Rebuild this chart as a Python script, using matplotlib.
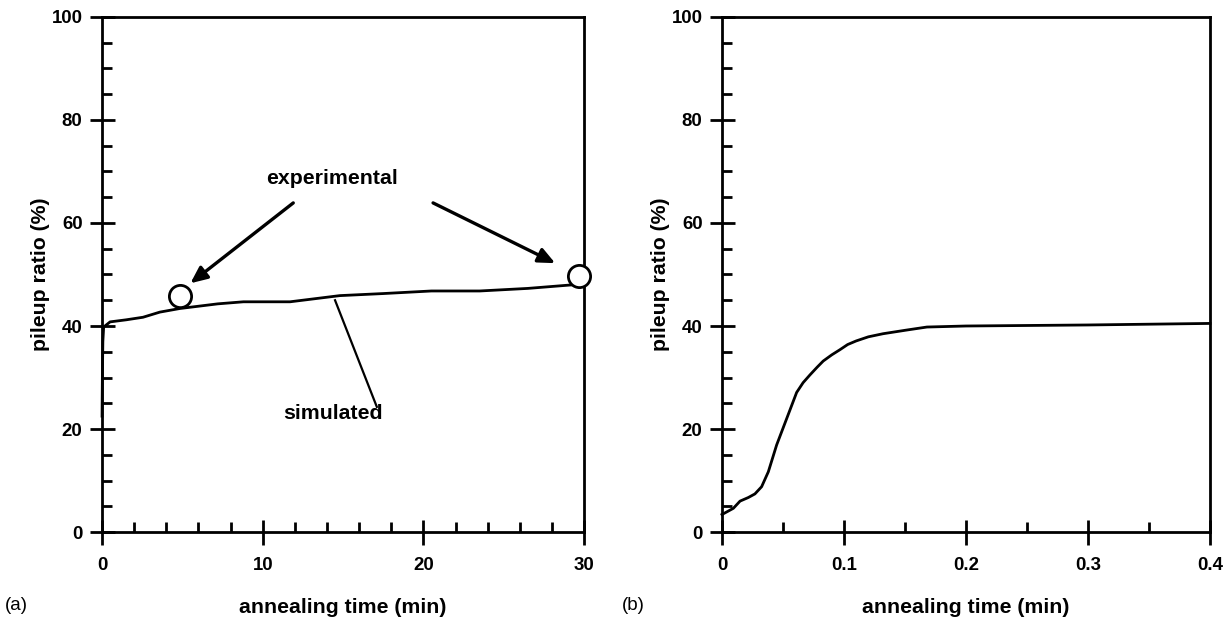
import numpy as np
import matplotlib
matplotlib.use("Agg")
import matplotlib.pyplot as plt
from matplotlib.ticker import MultipleLocator

plt.rcParams["font.family"] = ["Liberation Sans", "DejaVu Sans"]

# (a) long anneal: simulated pileup ratio vs time (min)
sim_a_t = [0.0, 0.02, 0.05, 0.1, 0.5, 1.5, 2.55, 3.6, 4.85, 7.2, 8.8, 11.7,
           14.8, 17.5, 20.5, 23.5, 26.5, 29.3, 30.0]
sim_a_y = [22.5, 30.0, 37.0, 39.8, 40.8, 41.2, 41.7, 42.7, 43.4, 44.3, 44.7,
           44.7, 45.9, 46.3, 46.8, 46.8, 47.3, 48.0, 48.2]

# experimental points
exp_t = [4.85, 29.7]
exp_y = [45.8, 49.7]

# (b) short anneal
sim_b_t = [0.0, 0.0093, 0.0148, 0.0216, 0.027, 0.0325, 0.038, 0.0448, 0.053,
           0.0612, 0.0665, 0.0721, 0.078, 0.083, 0.09, 0.0967, 0.103, 0.110,
           0.12, 0.132, 0.151, 0.168, 0.2, 0.3, 0.4]
sim_b_y = [3.4, 4.6, 6.0, 6.7, 7.4, 8.8, 11.7, 16.9, 22.0, 27.1, 29.0, 30.5,
           32.0, 33.2, 34.4, 35.4, 36.4, 37.1, 37.9, 38.5, 39.2, 39.8, 40.0,
           40.2, 40.5]

FS = 13.4      # tick labels
LFS = 15.3     # axis labels / annotations
LW = 2.0


def style_axes(ax, xmax, xmajor, xminor):
    ax.set_xlim(0, xmax)
    ax.set_ylim(0, 100)
    ax.xaxis.set_major_locator(MultipleLocator(xmajor))
    ax.xaxis.set_minor_locator(MultipleLocator(xminor))
    ax.yaxis.set_major_locator(MultipleLocator(20))
    ax.yaxis.set_minor_locator(MultipleLocator(5))
    ax.xaxis.set_major_formatter(plt.FuncFormatter(lambda v, p: f"{v:g}"))
    for s in ax.spines.values():
        s.set_linewidth(LW)
    ax.tick_params(which="major", direction="inout", length=18, width=LW,
                   labelsize=FS)
    ax.tick_params(which="minor", direction="in", length=7, width=LW)
    ax.tick_params(axis="x", which="major", pad=9)
    ax.tick_params(axis="y", which="major", pad=5)
    for lab in ax.get_xticklabels() + ax.get_yticklabels():
        lab.set_fontweight("bold")
    ax.set_xlabel("annealing time (min)", fontsize=LFS, fontweight="bold",
                  labelpad=17)
    ax.set_ylabel("pileup ratio (%)", fontsize=LFS, fontweight="bold",
                  labelpad=1)


fig = plt.figure(figsize=(12.31, 6.24), dpi=100)
ax1 = fig.add_axes([0.0829, 0.1474, 0.3916, 0.8254])
ax2 = fig.add_axes([0.5865, 0.1474, 0.3964, 0.8254])

# panel (a)
ax1.plot(sim_a_t, sim_a_y, color="black", lw=2.0, clip_on=False)
ax1.plot(exp_t, exp_y, "o", ms=16, mfc="white", mec="black", mew=2.0,
         clip_on=False, zorder=5)
style_axes(ax1, 30, 10, 2)

arrow = dict(arrowstyle="-|>,head_length=1.0,head_width=0.45", color="black",
             lw=2.4, shrinkA=0, shrinkB=0)
ax1.annotate("", xy=(5.5, 48.3), xytext=(11.9, 63.9), arrowprops=arrow)
ax1.annotate("", xy=(28.2, 52.2), xytext=(20.6, 63.9), arrowprops=arrow)
ax1.text(14.3, 68.7, "experimental", ha="center", va="center", fontsize=LFS,
         fontweight="bold")
ax1.text(14.4, 23.1, "simulated", ha="center", va="center", fontsize=LFS,
         fontweight="bold")
ax1.plot([17.1, 14.5], [24.3, 45.0], color="black", lw=1.6)

# panel (b)
ax2.plot(sim_b_t, sim_b_y, color="black", lw=2.0, clip_on=False)
style_axes(ax2, 0.4, 0.1, 0.05)

fig.text(16 / 1231, 1 - 606 / 624, "(a)", ha="center", va="center", fontsize=13.5)
fig.text(633 / 1231, 1 - 606 / 624, "(b)", ha="center", va="center", fontsize=13.5)

fig.savefig("out.png", dpi=100)
